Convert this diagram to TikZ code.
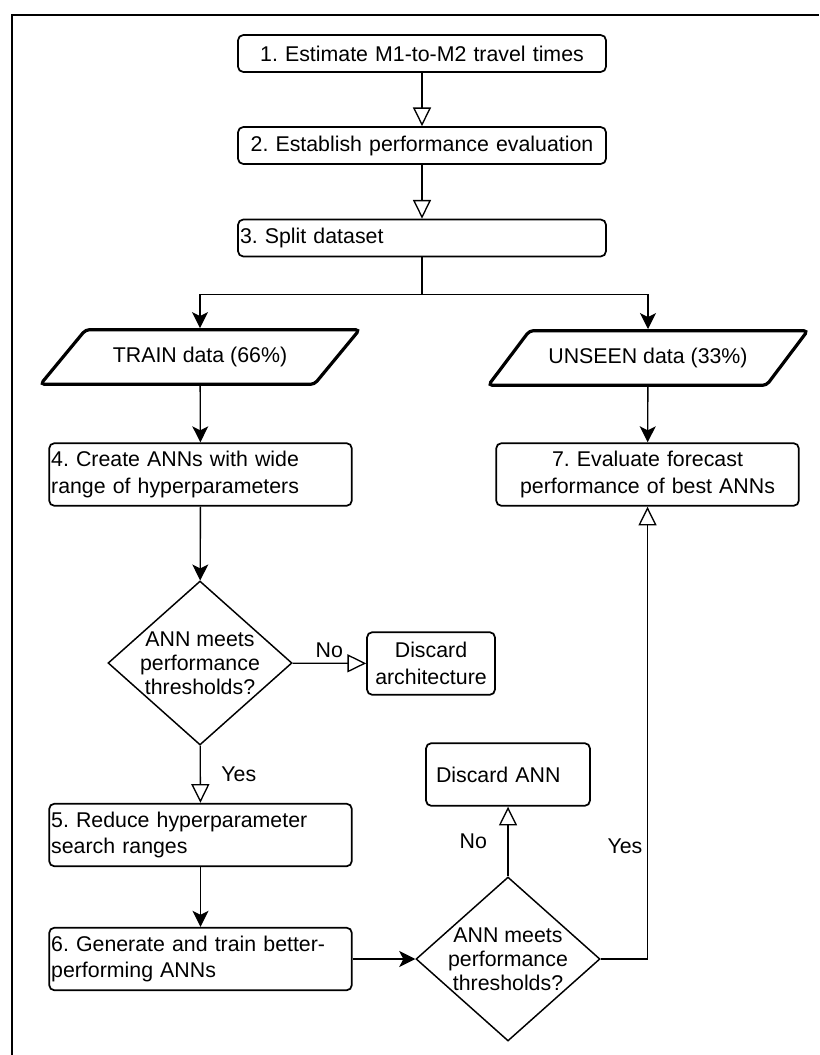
\documentclass[tikz,border=0pt]{standalone}
\usepackage{fontspec}
\setmainfont{Liberation Sans}
\usetikzlibrary{shapes.geometric, arrows.meta}
\frenchspacing

\begin{document}
\begin{tikzpicture}[x = 0.75pt, y = -0.75pt,
            every node/.style = {font = \fontsize{16}{20}\selectfont},
            stepbox/.style = {draw, line width = 1.3pt, fill = white, rounded corners = 4pt,
                inner sep = 1.5pt, text width = #1},
            databox/.style = {draw, line width = 2.4pt, fill = white, rounded corners = 3pt,
                trapezium, trapezium left angle = 38.5, trapezium right angle = 141.5,
                trapezium stretches = true, minimum width = 240pt, minimum height = 41pt},
            decision/.style = {draw, line width = 1.1pt, fill = white, diamond, aspect = 1.12,
                minimum width = 138pt, minimum height = 123pt, inner sep = -4pt, align = center,
                font = \fontsize{16}{18}\selectfont},
            flow/.style = {line width = 1pt, -{Stealth[length = 12pt, width = 12pt, inset = 3pt]}},
            hollow/.style = {line width = 1pt, -{Triangle[open, length = 14pt, width = 13.5pt, fill = white]}}]
            \useasboundingbox (0,0) rectangle (819,1055);
            \draw[line width = 1.5pt] (11.5,1055) -- (11.5,15) -- (819,15);

            \node[stepbox = 273pt, align = center, minimum height = 27.75pt] (est) at (422,53.5)
                {1. Estimate M1-to-M2 travel times};
            \node[stepbox = 273pt, align = center, minimum height = 27.75pt] (perf) at (422,145.5)
                {2. Establish performance evaluation};
            \node[stepbox = 273pt, align = left, minimum height = 27.75pt] (split) at (422,238)
                {3. Split dataset};
            \node[databox] (train) at (200,357) {TRAIN data (66\%)};
            \node[databox] (unseen) at (648,358) {UNSEEN data (33\%)};
            \node[stepbox = 224pt, align = left, minimum height = 47pt] (create) at (200.5,474.5)
                {4. Create ANNs with wide\\range of hyperparameters};
            \node[stepbox = 224pt, align = center, minimum height = 47pt] (eval) at (647.5,474.5)
                {7. Evaluate forecast\\performance of best ANNs};
            \node[decision] (meets) at (200,663) {ANN meets\\performance\\thresholds?};
            \node[stepbox = 93pt, align = center, minimum height = 47pt] (arch) at (431,663.5)
                {Discard\\architecture};
            \node[stepbox = 108pt, align = left, minimum height = 47pt, inner sep = 7.5pt] (dann) at (508,774.5)
                {Discard ANN};
            \node[stepbox = 224pt, align = left, minimum height = 47pt] (reduce) at (200.5,835)
                {5. Reduce hyperparameter\\search ranges};
            \node[stepbox = 224pt, align = left, minimum height = 47pt] (better) at (200.5,959)
                {6. Generate and train better-\\performing ANNs};
            \node[decision] (again) at (508,959) {ANN meets\\performance\\thresholds?};

            \draw[hollow] (est) -- (perf);
            \draw[hollow] (perf) -- (split);
            \draw[line width = 1pt] (split.south) -- ++(0,37) coordinate (fork);
            \draw[flow] (fork) -| (train.north);
            \draw[flow] (fork) -| (unseen.north);
            \draw[flow] (train) -- (create);
            \draw[flow] (unseen) -- (eval);
            \draw[flow] (create) -- (meets);
            \draw[hollow] (meets) -- node[above] {No} (arch);
            \draw[hollow] (meets) -- node[right, xshift = 12pt] {Yes} (reduce);
            \draw[flow] (reduce) -- (better);
            \draw[flow] (better) -- (again);
            \draw[hollow] (again) -- node[left, xshift = -12pt] {No} (dann);
            \draw[hollow] (again.east) -| node[pos = 0.625, left] {Yes} (eval.south);
        \end{tikzpicture}
\end{document}
